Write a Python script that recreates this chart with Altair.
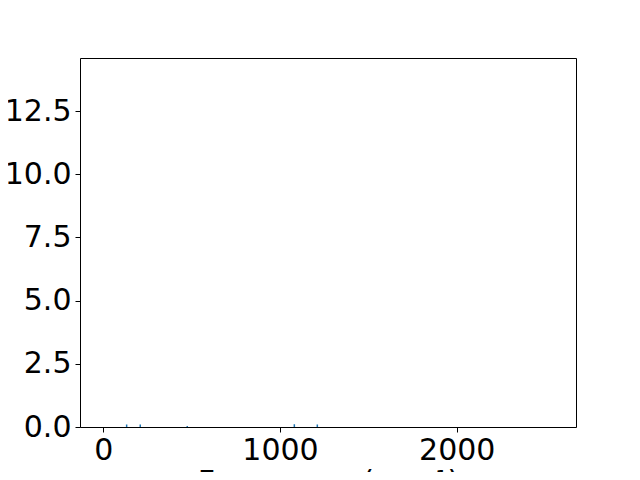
import altair as alt
import pandas as pd

freqs = [132, 209, 475, 1081, 1211]
intens = [0.10, 0.10, 0.04, 0.11, 0.10]
x_ticks = [0, 1000, 2000]
y_ticks = [0, 2.5, 5.0, 7.5, 10.0, 12.5]

df = pd.DataFrame({"freq": freqs, "inten": intens, "zero": [0] * len(freqs)})

FS = 30
xscale = alt.Scale(domain=[-132, 2675], nice=False, zero=False)
yscale = alt.Scale(domain=[0, 14.6], nice=False)

bars = alt.Chart(df).mark_rule(color="#1f77b4", strokeWidth=1.5).encode(
    x=alt.X("freq:Q", scale=xscale,
            axis=alt.Axis(values=x_ticks, title="Frequency (cm⁻¹)", grid=False,
                          labelFontSize=FS, titleFontSize=FS, titleFontWeight="normal",
                          labelFont="DejaVu Sans", titleFont="DejaVu Sans",
                          tickSize=5, labelPadding=3, titlePadding=2,
                          domainColor="black", tickColor="black", labelColor="black",
                          titleColor="black", labelFlush=False, format="d")),
    y=alt.Y("inten:Q", scale=yscale,
            axis=alt.Axis(values=y_ticks, title=None, grid=False,
                          labelFontSize=FS, labelFont="DejaVu Sans",
                          tickSize=5, labelPadding=4, format=".1f",
                          domainColor="black", tickColor="black", labelColor="black",
                          labelFlush=False)),
    y2="zero:Q",
)

frame = alt.Chart(df).mark_rule(opacity=0).encode(
    x=alt.X("freq:Q", scale=xscale,
            axis=alt.Axis(orient="top", labels=False, ticks=False, title=None,
                          grid=False, domainColor="black")),
    y=alt.Y("inten:Q", scale=yscale,
            axis=alt.Axis(orient="right", labels=False, ticks=False, title=None,
                          grid=False, domainColor="black")),
)

chart = alt.layer(bars, frame).resolve_axis(x="independent", y="independent").properties(
    width=496, height=369,
    autosize=alt.AutoSizeParams(type="none"),
    padding={"left": 72, "top": 50, "right": 56, "bottom": 45},
).configure_view(stroke=None).configure(background="white")

chart.save("out.html", embed_options={"renderer": "svg", "actions": False})
